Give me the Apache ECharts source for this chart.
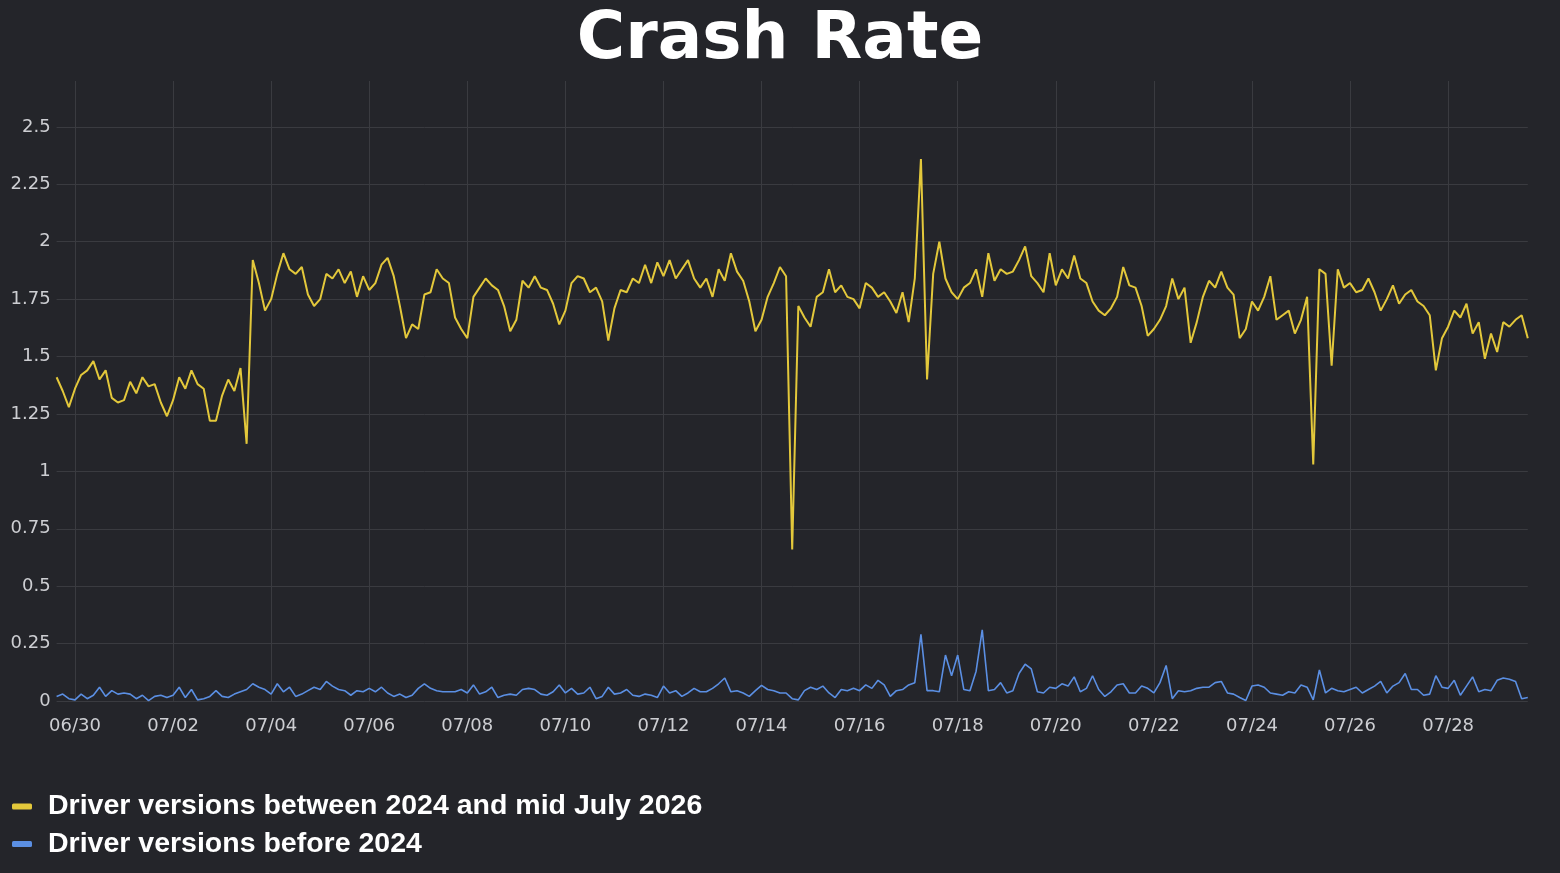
<!DOCTYPE html>
<html>
<head>
<meta charset="utf-8">
<script src="https://cdn.jsdelivr.net/npm/echarts@6.0.0/dist/echarts.min.js"></script>
<style>
html,body{margin:0;padding:0;background:#24252a;}
#chart{width:1560px;height:873px;}
</style>
</head>
<body>
<div id="chart"></div>
<script>
// Sampling: one point every 3 hours, first point 9 hours before 06/30 00:00
const START_HOUR = -9;
const STEP_HOURS = 3;

const dateLabels = ['06/30','07/02','07/04','07/06','07/08','07/10','07/12','07/14','07/16','07/18','07/20','07/22','07/24','07/26','07/28'];
const labelHours = [0,48,96,144,192,240,288,336,384,432,480,528,576,624,672];

const seriesNames = ['Driver versions between 2024 and mid July 2026', 'Driver versions before 2024'];

const newerDrivers = [
1.41,1.35,1.28,1.36,1.42,1.44,1.48,1.40,1.44,1.32,
1.30,1.31,1.39,1.34,1.41,1.37,1.38,1.30,1.24,1.31,
1.41,1.36,1.44,1.38,1.36,1.22,1.22,1.33,1.40,1.35,
1.45,1.12,1.92,1.82,1.70,1.75,1.86,1.95,1.88,1.86,
1.89,1.77,1.72,1.75,1.86,1.84,1.88,1.82,1.87,1.76,
1.85,1.79,1.82,1.90,1.93,1.85,1.72,1.58,1.64,1.62,
1.77,1.78,1.88,1.84,1.82,1.67,1.62,1.58,1.76,1.80,
1.84,1.81,1.79,1.72,1.61,1.66,1.83,1.80,1.85,1.80,
1.79,1.73,1.64,1.70,1.82,1.85,1.84,1.78,1.80,1.74,
1.57,1.71,1.79,1.78,1.84,1.82,1.90,1.82,1.91,1.85,
1.92,1.84,1.88,1.92,1.84,1.80,1.84,1.76,1.88,1.83,
1.95,1.87,1.83,1.74,1.61,1.66,1.76,1.82,1.89,1.85,
0.66,1.72,1.67,1.63,1.76,1.78,1.88,1.78,1.81,1.76,
1.75,1.71,1.82,1.80,1.76,1.78,1.74,1.69,1.78,1.65,
1.84,2.36,1.40,1.86,2.00,1.84,1.78,1.75,1.80,1.82,
1.88,1.76,1.95,1.83,1.88,1.86,1.87,1.92,1.98,1.85,
1.82,1.78,1.95,1.81,1.88,1.84,1.94,1.84,1.82,1.74,
1.70,1.68,1.71,1.76,1.89,1.81,1.80,1.72,1.59,1.62,
1.66,1.72,1.84,1.75,1.80,1.56,1.65,1.76,1.83,1.80,
1.87,1.80,1.77,1.58,1.62,1.74,1.70,1.76,1.85,1.66,
1.68,1.70,1.60,1.66,1.76,1.03,1.88,1.86,1.46,1.88,
1.80,1.82,1.78,1.79,1.84,1.78,1.70,1.75,1.81,1.73,
1.77,1.79,1.74,1.72,1.68,1.44,1.58,1.63,1.70,1.67,
1.73,1.60,1.65,1.49,1.60,1.52,1.65,1.63,1.66,1.68,1.58
];

const olderDrivers = [
0.02,0.03,0.01,0.005,0.03,0.01,0.025,0.06,0.02,0.045,
0.03,0.035,0.03,0.01,0.025,0.002,0.02,0.025,0.015,0.025,
0.06,0.015,0.05,0.005,0.01,0.02,0.045,0.02,0.015,0.03,
0.04,0.05,0.075,0.06,0.05,0.03,0.075,0.04,0.06,0.02,
0.03,0.045,0.06,0.05,0.085,0.065,0.05,0.045,0.025,0.045,
0.04,0.055,0.04,0.06,0.035,0.02,0.03,0.015,0.025,0.055,
0.075,0.055,0.045,0.04,0.04,0.04,0.05,0.035,0.07,0.03,
0.04,0.06,0.015,0.025,0.03,0.025,0.05,0.055,0.05,0.03,
0.025,0.04,0.07,0.035,0.055,0.03,0.035,0.06,0.01,0.02,
0.06,0.03,0.035,0.05,0.025,0.02,0.03,0.025,0.015,0.065,
0.035,0.045,0.02,0.035,0.055,0.04,0.04,0.055,0.075,0.10,
0.04,0.045,0.035,0.02,0.045,0.068,0.05,0.045,0.035,0.035,
0.01,0.005,0.045,0.06,0.05,0.065,0.035,0.015,0.05,0.045,
0.055,0.045,0.07,0.055,0.09,0.07,0.02,0.045,0.05,0.07,
0.08,0.29,0.045,0.045,0.04,0.20,0.11,0.20,0.05,0.045,
0.13,0.31,0.045,0.05,0.08,0.035,0.045,0.12,0.16,0.14,
0.04,0.035,0.06,0.055,0.075,0.065,0.105,0.04,0.055,0.11,
0.05,0.02,0.04,0.07,0.075,0.035,0.035,0.065,0.055,0.035,
0.08,0.155,0.01,0.045,0.04,0.045,0.055,0.06,0.06,0.08,
0.085,0.035,0.03,0.015,0.002,0.065,0.07,0.06,0.035,0.03,
0.025,0.04,0.035,0.07,0.06,0.005,0.135,0.035,0.055,0.045,
0.04,0.05,0.06,0.035,0.05,0.065,0.085,0.035,0.065,0.08,
0.12,0.05,0.05,0.025,0.03,0.11,0.06,0.055,0.09,0.025,
0.065,0.105,0.04,0.05,0.045,0.09,0.10,0.095,0.085,0.01,0.015
];

const toPairs = arr => arr.map((v, i) => [START_HOUR + i * STEP_HOURS, v]);
const endHour = START_HOUR + (newerDrivers.length - 1) * STEP_HOURS;

const GRID = '#3a3b40';
const LABEL = '#cdced2';
const yLineColors = [GRID,GRID,GRID,GRID,GRID,GRID,GRID,GRID,GRID,GRID,GRID,'rgba(0,0,0,0)'];

const chart = echarts.init(document.getElementById('chart'));
chart.setOption({
  backgroundColor: '#24252a',
  animation: false,
  title: {
    text: 'Crash Rate',
    left: 'center',
    top: 3,
    textStyle: { color: '#ffffff', fontSize: 66, fontWeight: 'bold', fontFamily: 'DejaVu Sans' }
  },
  legend: {
    orient: 'vertical',
    left: 7,
    top: 787,
    itemWidth: 20,
    itemHeight: 6,
    itemGap: 8.5,
    icon: 'roundRect',
    data: seriesNames,
    textStyle: { color: '#ffffff', fontSize: 28.5, fontWeight: 'bold', fontFamily: 'Liberation Sans', padding: [0,0,0,11] }
  },
  grid: { left: 56.6, right: 32.2, top: 81, bottom: 172, containLabel: false, outerBoundsMode: 'none' },
  xAxis: {
    type: 'value',
    min: START_HOUR,
    max: endHour,
    axisLine: { show: false },
    axisTick: { show: false, customValues: labelHours },
    axisLabel: {
      customValues: labelHours,
      formatter: v => { const k = labelHours.indexOf(v); return k >= 0 ? dateLabels[k] : ''; },
      color: LABEL, fontSize: 18, fontFamily: 'DejaVu Sans', margin: 16
    },
    splitLine: { show: true, lineStyle: { color: GRID, width: 1 } }
  },
  yAxis: {
    type: 'value',
    min: 0,
    max: 2.7,
    interval: 0.25,
    axisLine: { show: false },
    axisTick: { show: false },
    axisLabel: { color: LABEL, fontSize: 18, fontFamily: 'DejaVu Sans', margin: 6, showMaxLabel: false },
    splitLine: { show: true, lineStyle: { color: yLineColors, width: 1 } }
  },
  series: [
    {
      name: seriesNames[0], type: 'line', data: toPairs(newerDrivers),
      showSymbol: false, symbol: 'none',
      lineStyle: { color: '#e3c83b', width: 2 }, itemStyle: { color: '#e3c83b' }
    },
    {
      name: seriesNames[1], type: 'line', data: toPairs(olderDrivers),
      showSymbol: false, symbol: 'none',
      lineStyle: { color: '#5b8fe3', width: 1.6 }, itemStyle: { color: '#5b8fe3' }
    }
  ]
});
</script>
</body>
</html>
